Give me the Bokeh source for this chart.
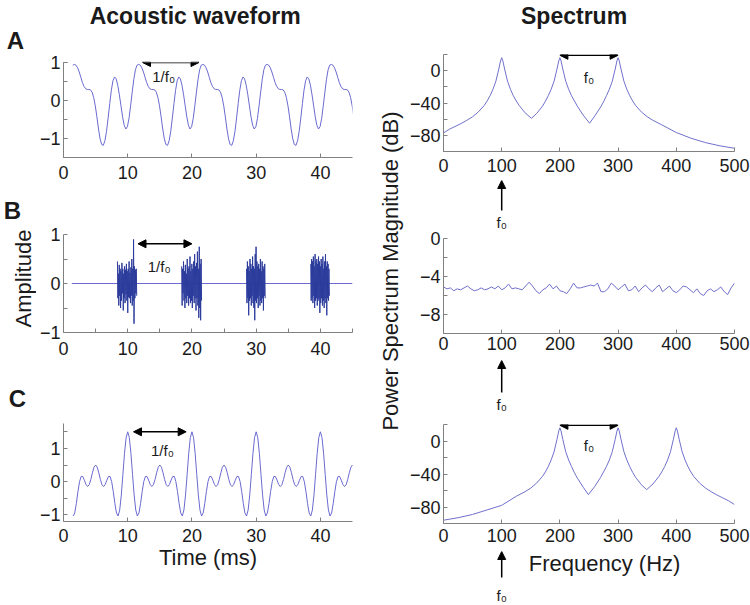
import numpy as np
from bokeh.plotting import figure
from bokeh.layouts import row, column
from bokeh.models import Label, Arrow, NormalHead, FixedTicker, Range1d
from bokeh.embed import file_html
from bokeh.resources import INLINE

# ---------------- data ----------------
# A: one period (10 ms) of the waveform read at 0.25 ms steps, starting at its peak (t = 1.7 ms)
wave_a_period = [0.95, 0.93, 0.86, 0.75, 0.61, 0.47, 0.37, 0.31, 0.29, 0.29,
                 0.28, 0.22, 0.08, -0.14, -0.43, -0.75, -1.01, -1.16, -1.18, -1.06,
                 -0.81, -0.46, -0.08, 0.27, 0.52, 0.62, 0.57, 0.40, 0.15, -0.14,
                 -0.43, -0.65, -0.75, -0.69, -0.47, -0.14, 0.22, 0.56, 0.81, 0.93]
wave_a_start = 1.7
# C: one period (10 ms) read at 0.25 ms steps starting at its peak (t = 0)
wave_c_period = [1.5, 1.326, 0.853, 0.217, -0.405, -0.854, -1.035, -0.943, -0.655, -0.298,
                 0.0, 0.156, 0.155, 0.045, -0.084, -0.146, -0.096, 0.061, 0.265, 0.434,
                 0.5, 0.434, 0.265, 0.061, -0.096, -0.146, -0.084, 0.045, 0.155, 0.156,
                 0.0, -0.298, -0.655, -0.943, -1.035, -0.854, -0.405, 0.217, 0.853, 1.326]
wave_step = 0.25

# B: pulse train of noise bursts
baseline_t = [1.3, 45.0]
baseline_y = [0.0, 0.0]
burst_start = [8.4, 18.4, 28.5, 38.5]
burst_end = [11.4, 21.5, 31.4, 41.4]
burst1 = [0.45, -0.3, 0.2, -0.45, 0.38, -0.25, 0.3, -0.5, 0.25, -0.35, 0.42, -0.2, 0.3, -0.55,
          0.2, -0.3, 0.35, -0.4, 0.28, -0.22, 0.4, -0.35, 0.25, -0.6, 0.3, -0.28, 0.45, -0.3,
          0.22, -0.4, 0.33, -0.25, 0.5, -0.45, 0.3, -0.35, 0.9, -0.82, 0.35, -0.3, 0.28, -0.2,
          0.3, -0.25]
burst2 = [0.35, -0.45, 0.3, -0.2, 0.45, -0.35, 0.25, -0.5, 0.38, -0.3, 0.2, -0.4, 0.5, -0.25,
          0.3, -0.45, 0.35, -0.3, 0.55, -0.4, 0.25, -0.35, 0.4, -0.5, 0.3, -0.25, 0.45, -0.4,
          0.6, -0.3, 0.35, -0.55, 0.42, -0.3, 0.65, -0.45, 0.3, -0.7, 0.75, -0.5, 0.4, -0.75,
          0.5, -0.35]
burst3 = [0.3, -0.4, 0.45, -0.3, 0.35, -0.65, 0.25, -0.35, 0.5, -0.3, 0.4, -0.45, 0.3, -0.25,
          0.55, -0.4, 0.35, -0.5, 0.3, -0.75, 0.6, -0.35, 0.75, -0.4, 0.45, -0.3, 0.35, -0.5,
          0.4, -0.25, 0.3, -0.45, 0.5, -0.35, 0.25, -0.4, 0.45, -0.3, 0.35, -0.55, 0.3, -0.25,
          0.4, -0.3]
burst4 = [0.4, -0.35, 0.5, -0.3, 0.45, -0.4, 0.55, -0.25, 0.35, -0.5, 0.6, -0.35, 0.45, -0.3,
          0.5, -0.45, 0.4, -0.35, 0.55, -0.3, 0.45, -0.6, 0.35, -0.4, 0.5, -0.3, 0.4, -0.45,
          0.55, -0.35, 0.3, -0.5, 0.45, -0.3, 0.6, -0.4, 0.35, -0.65, 0.45, -0.3, 0.4, -0.35,
          0.3, -0.25]
bursts = [burst1, burst2, burst3, burst4]

# Spectra (dB)
freq_a = [0, 10, 20, 30, 40, 50, 60, 70, 75, 80, 85, 90, 95, 98, 100, 102, 105, 110, 115, 120,
          125, 130, 140, 151, 160, 170, 175, 180, 185, 190, 195, 198, 200, 202, 205, 210, 215,
          220, 225, 230, 240, 251, 260, 270, 275, 280, 285, 290, 295, 298, 300, 302, 305, 310,
          315, 320, 325, 330, 340, 350, 360, 375, 400, 425, 450, 475, 500]
db_a = [-77, -72.5, -69, -65.5, -61.5, -57, -51, -43, -37.5, -31, -23, -13, 2, 12, 16, 12, 2,
        -13, -23, -31, -37.5, -43, -52, -59, -53, -44, -38, -31, -23, -13, 2, 12, 16, 12, 2,
        -13, -23, -31, -37.5, -44, -55, -65, -56, -45, -38.5, -31, -23, -13, 2, 12, 16, 12, 2,
        -13, -23, -31, -37.5, -43, -51, -57, -61.5, -67, -76.5, -83.5, -89, -93, -96]
freq_b = list(np.linspace(0, 500, 86))
db_b = [-5.1, -5.3, -5.2, -5.5, -5.3, -5.4, -5.2, -5.0, -5.3, -5.5, -5.4, -5.2, -5.4, -5.3,
        -5.1, -5.3, -5.0, -5.4, -5.2, -4.8, -5.3, -5.2, -5.3, -5.4, -5.0, -4.6, -5.0, -5.5,
        -5.8, -5.4, -5.2, -4.8, -5.3, -5.0, -5.5, -5.6, -5.8, -5.3, -4.7, -5.2, -5.2, -5.1,
        -5.0, -4.9, -5.0, -4.7, -5.6, -5.6, -5.3, -4.7, -5.0, -5.4, -5.1, -4.8, -5.5, -5.4,
        -5.0, -5.6, -5.2, -4.9, -5.3, -5.6, -5.2, -4.9, -5.6, -5.3, -5.0, -5.5, -5.7, -5.4,
        -5.0, -5.1, -5.4, -5.7, -5.3, -5.8, -6.0, -5.5, -5.3, -5.6, -5.4, -5.1, -5.6, -5.9,
        -5.2, -4.7]
freq_c = [0, 25, 50, 75, 100, 125, 140, 150, 160, 170, 175, 180, 185, 190, 195, 198, 200, 202,
          205, 210, 215, 220, 225, 230, 240, 249, 260, 270, 275, 280, 285, 290, 295, 298, 300,
          302, 305, 310, 315, 320, 325, 330, 340, 349, 360, 370, 375, 380, 385, 390, 395, 398,
          400, 402, 405, 410, 415, 420, 425, 430, 440, 450, 460, 470, 480, 490, 500]
db_c = [-96, -93, -89, -83.5, -78, -67, -61.5, -57, -51, -43, -37.5, -31, -23, -13, 2, 12,
        16, 12, 2, -13, -23, -31, -38.5, -45, -56, -65, -55, -44, -37.5, -31, -23, -13, 2, 12,
        16, 12, 2, -13, -23, -31, -38, -44, -53, -59, -52, -43, -37.5, -31, -23, -13, 2, 12,
        16, 12, 2, -13, -23, -31, -37.5, -43, -51, -57, -61.5, -65.5, -69, -72.5, -77]

time_ticks = [0, 10, 20, 30, 40]
freq_ticks = [0, 100, 200, 300, 400, 500]
amp_ticks = [-1, 0, 1]
db_ticks = [-80, -40, 0]
noise_db_ticks = [-8, -4, 0]

# ---------------- style ----------------
FONT = "Liberation Sans"
AXIS = "#808080"
WAVE = "#6a6ad0"
SPEC = "#7070cc"
BURST = "#2c3c9c"
TXT = "#1a1a1a"


def panel(w, h, left, right, top, bottom, xr, yr, xstand):
    p = figure(width=w, height=h, x_range=Range1d(*xr), y_range=Range1d(*yr),
               output_backend="svg", toolbar_location=None, title=None,
               min_border_left=left, min_border_right=right,
               min_border_top=top, min_border_bottom=bottom)
    p.grid.visible = False
    p.outline_line_color = None
    for ax in p.axis:
        ax.axis_line_color = AXIS
        ax.major_tick_line_color = AXIS
        ax.minor_tick_line_color = AXIS
        ax.major_tick_in = 4
        ax.major_tick_out = 0
        ax.minor_tick_in = 4
        ax.minor_tick_out = 0
        ax.major_label_text_font = FONT
        ax.major_label_text_font_size = "18px"
        ax.major_label_text_color = TXT
        ax.axis_label_text_font = FONT
        ax.axis_label_text_font_style = "normal"
        ax.axis_label_text_font_size = "22px"
        ax.axis_label_text_color = TXT
    p.xaxis.major_label_standoff = xstand
    p.yaxis.major_label_standoff = 3
    p.yaxis.axis_label_standoff = 0
    return p


def blank(w, h, left, right, xr, yr):
    # an axis-free plot used to hold annotations; its ranges are in page pixels
    p = figure(width=w, height=h, x_range=Range1d(*xr), y_range=Range1d(*yr),
               output_backend="svg", toolbar_location=None, title=None,
               x_axis_location=None, y_axis_location=None,
               min_border_left=left, min_border_right=right,
               min_border_top=0, min_border_bottom=0)
    p.grid.visible = False
    p.outline_line_color = None
    return p


def txt(p, x, y, s, size="15px", bold=False, angle=0.0):
    p.add_layout(Label(x=x, y=y, text=s, text_font=FONT,
                       text_font_size=size, text_font_style="bold" if bold else "normal",
                       text_color=TXT, text_align="center", text_baseline="middle",
                       angle=angle))


def head():
    return NormalHead(size=8, fill_color="black", line_color="black")


def darrow(p, x0, x1, y):
    p.add_layout(Arrow(x_start=x0, y_start=y, x_end=x1, y_end=y, line_width=1.5,
                       line_color="black", start=head(), end=head()))


def uparrow(p, x, y0, y1):
    p.add_layout(Arrow(x_start=x, y_start=y0, x_end=x, y_end=y1, line_width=1.5,
                       line_color="black", end=head()))


# ---------------- far left: panel letters and the Amplitude label ----------------
LT = 36
lt = blank(LT, 605, 0, 0, (0, LT), (605, 0))
txt(lt, 15, 40, "A", size="24px", bold=True)
txt(lt, 12, 210, "B", size="24px", bold=True)
txt(lt, 17, 398, "C", size="24px", bold=True)
txt(lt, 22.5, 278, "Amplitude", size="22px", angle=np.pi / 2)

# ---------------- left column: waveforms ----------------
LW = 370 - LT
LB = 60 - LT
ta = blank(LW, 30, LB, 18, (60, 352), (30, 0))
txt(ta, 193, 15, "Acoustic waveform", size="23px", bold=True)

k_a = np.arange(-1, 176)
t_a = wave_a_start + wave_step * k_a
y_a = [wave_a_period[k % len(wave_a_period)] for k in k_a]
fa = panel(LW, 166, LB, 18, 32, 39, (0, 45), (-1.5, 1.0), 8)
fa.xaxis.ticker = FixedTicker(ticks=time_ticks)
fa.yaxis.ticker = FixedTicker(ticks=amp_ticks, minor_ticks=[-1.5, -1, -0.5, 0, 0.5, 1])
fa.line(t_a, y_a, line_color=WAVE, line_width=1)
darrow(fa, 12.3, 21.1, 1.0)
txt(fa, 15.6, 0.62, "1/f\u2080")

fb = panel(LW, 190, LB, 18, 38, 54, (0, 45), (-1.0, 1.0), 9)
fb.xaxis.ticker = FixedTicker(ticks=time_ticks, minor_ticks=[5, 15, 25, 35, 45])
fb.yaxis.ticker = FixedTicker(ticks=amp_ticks, minor_ticks=[-0.5, 0.5])
fb.line(baseline_t, baseline_y, line_color=WAVE, line_width=1)
for s0, s1, vals in zip(burst_start, burst_end, bursts):
    fb.line(np.linspace(s0, s1, len(vals)), vals, line_color=BURST, line_width=1)
darrow(fb, 11.6, 20.0, 0.81)
txt(fb, 14.9, 0.35, "1/f\u2080")

k_c = np.arange(6, 182)
t_c = wave_step * k_c
y_c = [wave_c_period[k % len(wave_c_period)] for k in k_c]
fc = panel(LW, 219, LB, 18, 37, 84, (0, 45), (-1.2, 1.75), 7)
fc.xaxis.ticker = FixedTicker(ticks=time_ticks)
fc.yaxis.ticker = FixedTicker(ticks=amp_ticks, minor_ticks=[-0.5, 0.5, 1.5])
fc.xaxis.axis_label = "Time (ms)"
fc.xaxis.axis_label_standoff = 0
fc.line(t_c, y_c, line_color=WAVE, line_width=1)
darrow(fc, 10.9, 19.1, 1.5)
txt(fc, 15.4, 0.93, "1/f\u2080")

# ---------------- middle: shared y label ----------------
fl = figure(width=36, height=605, x_range=Range1d(0, 1), y_range=Range1d(0, 1),
            output_backend="svg", toolbar_location=None, title=None, x_axis_location=None,
            min_border_left=32, min_border_right=0, min_border_top=98, min_border_bottom=162)
fl.grid.visible = False
fl.outline_line_color = None
fl.yaxis.ticker = FixedTicker(ticks=[])
fl.yaxis.axis_line_color = None
fl.yaxis.major_tick_out = 0
fl.yaxis.major_tick_in = 0
fl.yaxis.major_label_standoff = 0
fl.yaxis.axis_label = "Power Spectrum Magnitude (dB)"
fl.yaxis.axis_label_standoff = 0
fl.yaxis.axis_label_text_font = FONT
fl.yaxis.axis_label_text_font_style = "normal"
fl.yaxis.axis_label_text_font_size = "22px"
fl.yaxis.axis_label_text_color = TXT

# ---------------- right column: spectra ----------------
RW = 344
st = blank(RW, 36, 36, 16, (442, 734), (36, 0))
txt(st, 573, 15, "Spectrum", size="23px", bold=True)

sa = panel(RW, 144, 36, 16, 18, 29, (0, 500), (-100, 20), 7)
sa.xaxis.ticker = FixedTicker(ticks=freq_ticks)
sa.yaxis.ticker = FixedTicker(ticks=db_ticks, minor_ticks=[-100, -60, -20, 20])
sa.line(freq_a, db_a, line_color=SPEC, line_width=1)
darrow(sa, 200, 300, 19)
txt(sa, 250, -8, "f\u2080")

ga = blank(RW, 50, 36, 16, (0, 500), (50, 0))
uparrow(ga, 100, 30, 0)
txt(ga, 100, 42, "f\u2080")

sb = panel(RW, 130, 36, 16, 8, 27, (0, 500), (-10, 0), 3)
sb.xaxis.ticker = FixedTicker(ticks=freq_ticks)
sb.yaxis.ticker = FixedTicker(ticks=noise_db_ticks, minor_ticks=[-10, -6, -2])
sb.line(freq_b, db_b, line_color=SPEC, line_width=1)

gb = blank(RW, 54, 36, 16, (0, 500), (54, 0))
uparrow(gb, 100, 32, 0)
txt(gb, 100, 44, "f\u2080")

sc = panel(RW, 137, 36, 16, 10, 28, (0, 500), (-100, 20), 5)
sc.xaxis.ticker = FixedTicker(ticks=freq_ticks)
sc.yaxis.ticker = FixedTicker(ticks=db_ticks, minor_ticks=[-100, -60, -20, 20])
sc.line(freq_c, db_c, line_color=SPEC, line_width=1)
darrow(sc, 200, 300, 19)
txt(sc, 250, -5.5, "f\u2080")

gc = blank(RW, 54, 36, 16, (0, 500), (54, 0))
uparrow(gc, 100, 26, 0)
txt(gc, 100, 44, "f\u2080")
txt(gc, 282, 12, "Frequency  (Hz)", size="22px")

layout = row(column(lt), column(ta, fa, fb, fc), fl, column(st, sa, ga, sb, gb, sc, gc))

open("out.html", "w").write(file_html(layout, INLINE))
